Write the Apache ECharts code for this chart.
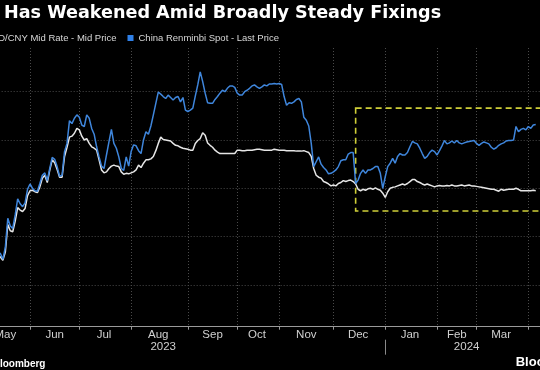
<!DOCTYPE html>
<html>
<head>
<meta charset="utf-8">
<script src="https://cdn.jsdelivr.net/npm/echarts@6/dist/echarts.min.js"></script>
<style>
html,body{margin:0;padding:0;background:#000;overflow:hidden;}
#chart{width:540px;height:370px;}
</style>
</head>
<body>
<div id="chart"></div>
<script>
// ---- Data ----
const months = ['May','Jun','Jul','Aug','Sep','Oct','Nov','Dec','Jan','Feb','Mar','Apr'];
const tradingDays = [20,20,21,23,20,17,22,21,21,16,21,8]; // trading sessions shown per month
const yearLabels = ['2023','2024'];
const seriesNames = ['USD/CNY Mid Rate - Mid Price','China Renminbi Spot - Last Price'];

// USD/CNY daily fixing (white line)
const midRate = [
  // May 2023
  null,null,null,null,null,null,6.962,6.960,6.958,6.951,6.968,7.025,7.012,7.010,7.032,7.060,7.055,7.052,7.058,7.085,
  // Jun
  7.095,7.096,7.093,7.091,7.103,7.121,7.127,7.112,7.137,7.159,7.153,7.139,7.123,7.123,7.166,7.185,7.206,7.208,7.214,7.224,
  // Jul
  7.221,7.208,7.200,7.203,7.193,7.186,7.183,7.179,7.159,7.138,7.132,7.134,7.141,7.146,7.148,7.146,7.145,7.134,7.129,7.131,7.130,
  // Aug
  7.132,7.134,7.138,7.148,7.143,7.152,7.159,7.159,7.161,7.166,7.178,7.193,7.206,7.201,7.200,7.199,7.198,7.193,7.189,7.188,7.185,7.183,7.182,
  // Sep
  7.181,7.179,7.179,7.193,7.199,7.203,7.215,7.210,7.194,7.189,7.185,7.179,7.175,7.172,7.172,7.172,7.172,7.172,7.172,7.172,
  // Oct
  7.179,7.179,7.178,7.178,7.179,7.179,7.179,7.180,7.181,7.181,7.180,7.179,7.179,7.179,7.179,7.181,7.180,
  // Nov
  7.179,7.179,7.179,7.178,7.178,7.178,7.178,7.177,7.177,7.177,7.178,7.176,7.174,7.166,7.141,7.127,7.123,7.121,7.114,7.112,7.109,7.105,
  // Dec
  7.107,7.105,7.110,7.112,7.116,7.114,7.116,7.117,7.114,7.109,7.098,7.095,7.098,7.096,7.099,7.100,7.098,7.101,7.098,7.096,7.090,
  // Jan 2024
  7.081,7.093,7.100,7.102,7.103,7.105,7.107,7.109,7.107,7.110,7.114,7.118,7.118,7.114,7.112,7.109,7.107,7.109,7.107,7.105,7.103,
  // Feb
  7.105,7.106,7.105,7.105,7.106,7.105,7.107,7.105,7.105,7.106,7.107,7.105,7.106,7.107,7.105,7.105,
  // Mar
  7.104,7.103,7.102,7.101,7.100,7.099,7.098,7.098,7.096,7.094,7.098,7.096,7.097,7.098,7.098,7.098,7.100,7.098,7.095,7.095,7.095,
  // Apr
  7.095,7.095,7.096,7.095
];

// Onshore spot (blue line)
const spotPrice = [
  // May 2023
  null,null,null,null,null,null,6.970,6.967,6.965,6.953,6.978,7.038,7.022,7.017,7.045,7.078,7.068,7.062,7.070,7.098,
  // Jun
  7.109,7.100,7.095,7.094,7.110,7.127,7.132,7.116,7.141,7.164,7.160,7.145,7.125,7.127,7.176,7.193,7.240,7.234,7.245,7.252,
  // Jul
  7.247,7.231,7.228,7.252,7.245,7.224,7.212,7.186,7.165,7.146,7.141,7.169,7.196,7.222,7.193,7.183,7.165,7.141,7.137,7.165,7.146,
  // Aug
  7.176,7.190,7.188,7.178,7.172,7.200,7.217,7.212,7.229,7.252,7.276,7.299,7.295,7.290,7.286,7.293,7.288,7.283,7.288,7.290,7.279,7.288,7.262,
  // Sep
  7.259,7.262,7.266,7.291,7.314,7.341,7.321,7.297,7.277,7.276,7.276,7.284,7.290,7.297,7.303,7.300,7.307,7.312,7.312,7.309,
  // Oct
  7.297,7.293,7.293,7.300,7.303,7.307,7.312,7.314,7.310,7.307,7.310,7.314,7.312,7.316,7.316,7.317,7.316,
  // Nov
  7.317,7.315,7.290,7.272,7.277,7.276,7.279,7.284,7.286,7.279,7.247,7.241,7.229,7.193,7.145,7.155,7.165,7.150,7.143,7.138,7.130,7.131,
  // Dec
  7.134,7.138,7.145,7.157,7.159,7.159,7.171,7.174,7.174,7.110,7.117,7.131,7.138,7.131,7.138,7.138,7.141,7.145,7.145,7.131,7.100,
  // Jan 2024
  7.124,7.145,7.152,7.162,7.152,7.166,7.172,7.169,7.169,7.174,7.186,7.197,7.194,7.192,7.183,7.172,7.162,7.166,7.174,7.179,7.176,
  // Feb
  7.169,7.178,7.188,7.199,7.192,7.194,7.198,7.194,7.199,7.194,7.192,7.194,7.196,7.197,7.198,7.199,
  // Mar
  7.193,7.189,7.193,7.196,7.194,7.192,7.185,7.181,7.184,7.189,7.192,7.194,7.198,7.199,7.199,7.200,7.228,7.217,7.222,7.224,7.221,
  // Apr
  7.228,7.224,7.231,7.232
];

// highlighted window (dashed box): first session, price band
const boxStartSession = 152;
const boxBand = [7.266, 7.053];

// ---- Build axis helpers ----
const categories = [];
const monthStart = new Set();
const monthMid = {};
let idx = 0;
months.forEach((m, k) => {
  const n = tradingDays[k];
  monthStart.add(idx);
  if (k < months.length - 1) monthMid[idx + Math.floor(n / 2)] = m;
  for (let d = 0; d < n; d++) categories.push(m + '-' + (k < 8 ? '23' : '24') + '-' + (d + 1));
  idx += n;
});
const janStart = tradingDays.slice(0, 8).reduce((a, b) => a + b, 0);
const yearLabelAt = {74: yearLabels[0], 197: yearLabels[1]};

const FONT = '"Liberation Sans", Arial, sans-serif';
const GRID_COLOR = '#4a4a4a';
const LEGEND_FS = 9.5;

// legend placement so that the second entry begins where the reference shows it
const cv = document.createElement('canvas').getContext('2d');
cv.font = LEGEND_FS + 'px "Liberation Sans"';
const w1 = cv.measureText(seriesNames[0]).width;
const legendLeft = 127.5 - 11 - w1 - 11;

const chart = echarts.init(document.getElementById('chart'), null, {renderer: 'canvas'});
chart.setOption({
  animation: false,
  backgroundColor: '#000',
  title: {
    text: 'Has Weakened Amid Broadly Steady Fixings',
    left: 4, top: 4, padding: 0,
    textStyle: {color: '#fff', fontFamily: '"DejaVu Sans", sans-serif', fontWeight: 'bold', fontSize: 17.6}
  },
  legend: {
    left: legendLeft, top: 33, padding: 0,
    icon: 'rect', itemWidth: 6, itemHeight: 6, itemGap: 11,
    textStyle: {color: '#d8d8d8', fontFamily: FONT, fontSize: LEGEND_FS},
    data: seriesNames
  },
  grid: {left: -19.34, right: -5.6, top: 48, bottom: 43.3, containLabel: false, outerBoundsMode: 'none'},
  xAxis: [{
    type: 'category', data: categories, boundaryGap: false,
    axisLine: {show: true, lineStyle: {color: '#9a9a9a', width: 1}},
    axisTick: {show: true, length: 3, interval: (i) => monthStart.has(i), lineStyle: {color: '#9a9a9a'}},
    axisLabel: {show: true, interval: (i) => monthMid[i] !== undefined, formatter: (v, i) => monthMid[i] || '',
      color: '#d0d0d0', fontFamily: FONT, fontSize: 11.5, margin: 2},
    splitLine: {show: true, interval: (i) => monthStart.has(i), lineStyle: {color: GRID_COLOR, type: [1, 2], width: 1}}
  }, {
    type: 'category', data: categories, boundaryGap: false, position: 'bottom', offset: 13,
    axisLine: {show: false},
    axisTick: {show: true, length: 15, interval: (i) => i === janStart, lineStyle: {color: '#8a8a8a'}},
    axisLabel: {show: true, interval: (i) => yearLabelAt[i] !== undefined, formatter: (v, i) => yearLabelAt[i] || '',
      color: '#d0d0d0', fontFamily: FONT, fontSize: 11.5, margin: 1},
    splitLine: {show: false}
  }],
  yAxis: {
    type: 'value', position: 'right', min: 6.8135, max: 7.3905, splitNumber: 5, scale: true,
    axisLine: {show: false}, axisTick: {show: false}, axisLabel: {show: false},
    splitLine: {show: true, showMinLine: false, showMaxLine: false, lineStyle: {color: GRID_COLOR, type: [1, 2], width: 1}}
  },
  series: [{
    name: seriesNames[0], type: 'line', data: midRate, symbol: 'none', xAxisIndex: 0,
    lineStyle: {color: '#e6e6e6', width: 1.5}, itemStyle: {color: '#e6e6e6'},
    markArea: {
      silent: true,
      itemStyle: {color: 'rgba(0,0,0,0)', borderColor: '#cfcf38', borderWidth: 1.6, borderType: [6, 4]},
      data: [[{xAxis: categories[boxStartSession], yAxis: boxBand[0]}, {xAxis: categories[categories.length - 1], yAxis: boxBand[1]}]]
    }
  }, {
    name: seriesNames[1], type: 'line', data: spotPrice, symbol: 'none', xAxisIndex: 0,
    lineStyle: {color: '#3f86dc', width: 1.5}, itemStyle: {color: '#2f80e8'}
  }],
  graphic: [
    {type: 'text', left: -7.3, top: 359, style: {text: 'Bloomberg', fill: '#fff', font: 'bold 10px "Liberation Sans"'}},
    {type: 'text', left: 515.7, top: 356, style: {text: 'Bloomberg', fill: '#fff', font: 'bold 13px "Liberation Sans"'}}
  ]
});
</script>
</body>
</html>
